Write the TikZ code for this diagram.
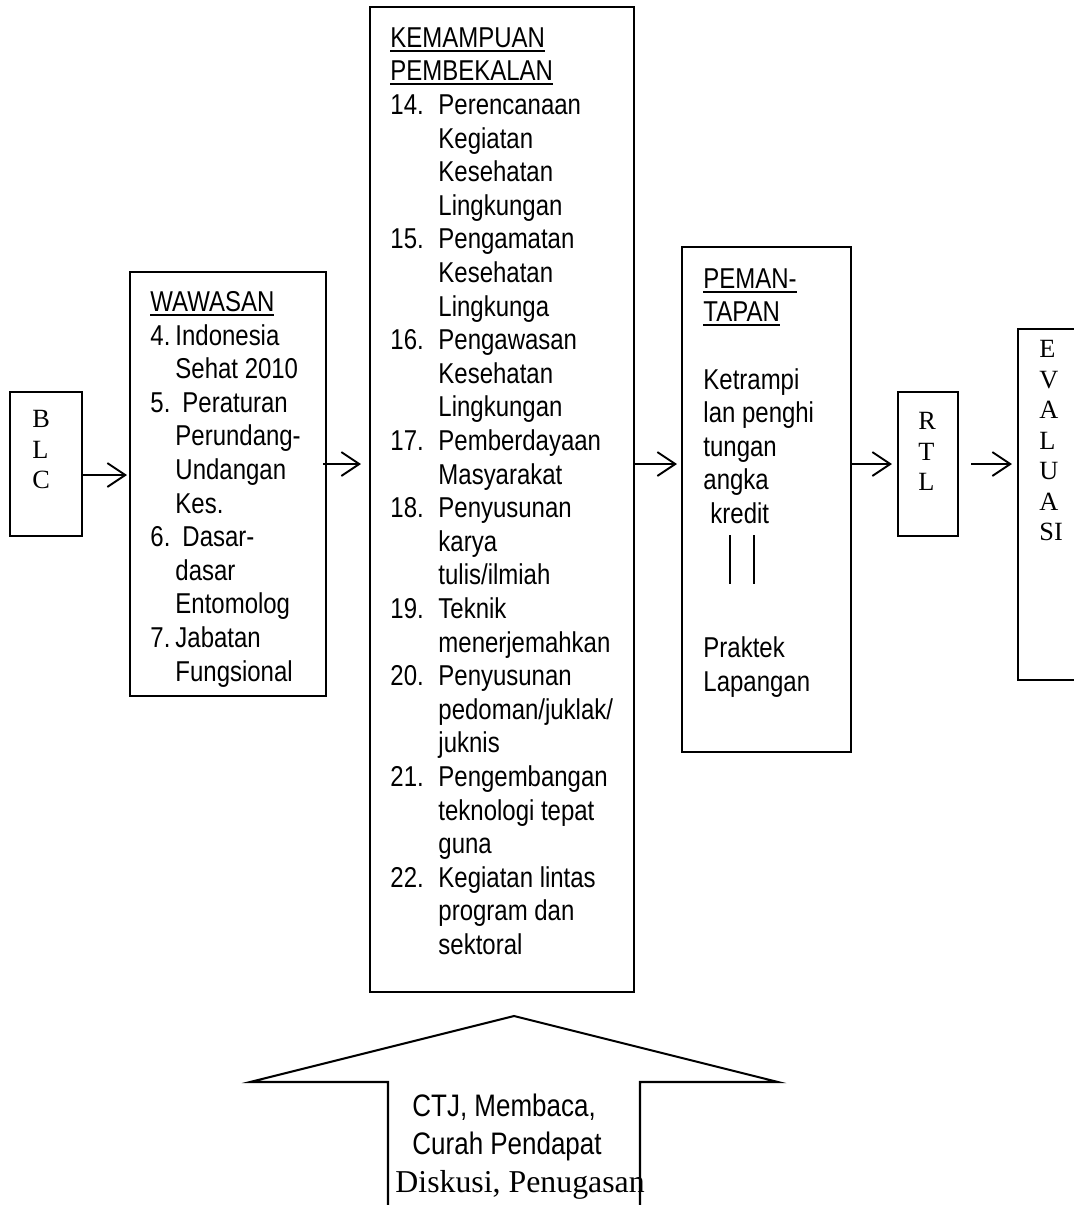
\documentclass[tikz,border=0pt]{standalone}
\usepackage{fontspec}
\setmainfont[FakeStretch=0.835]{Liberation Sans}
\newfontfamily\timesfont{Liberation Serif}
\usepackage{xcolor}
\definecolor{BoxBorder}{RGB}{0,0,0}
\definecolor{FlowColor}{RGB}{0,0,0}
\usepackage{tikz}
\usetikzlibrary{
  positioning,
  arrows.meta,
  calc
}
\newlength{\unitpx}
\setlength{\unitpx}{0.418pt}
% numbered items: number column, then hanging indent
\newcommand{\kno}[1]{\makebox[48\unitpx][l]{#1}}
\newcommand{\kin}{\hspace*{48\unitpx}}
\newcommand{\wno}[1]{\makebox[25\unitpx][l]{#1}}
\newcommand{\win}{\hspace*{25\unitpx}}
% underlined heading, heavier rule
\newcommand{\headul}[1]{\setbox0\hbox{#1}\rlap{\rule[-1.8pt]{\wd0}{0.85pt}}\box0}
\tikzset{
  % Stage box
  box/.style={
    rectangle,
    draw=BoxBorder,
    line width=0.85pt,
    inner sep=0pt
  },
  % Text inside a stage box
  txt/.style={
    inner sep=0pt,
    align=left,
    anchor=north west,
    font=\fontsize{12pt}{33.6\unitpx}\selectfont
  },
  % Upright letters of a short box
  vlet/.style={
    inner sep=0pt,
    align=left,
    anchor=north west,
    font=\timesfont\fontsize{11pt}{30.5\unitpx}\selectfont
  },
  % Flow arrow
  flow/.style={
    draw=FlowColor,
    line width=0.8pt,
    -{Straight Barb[length=7.5pt,width=10pt]}
  },
  % Plain line
  plain/.style={
    draw=BoxBorder,
    line width=0.85pt
  }
}

\begin{document}
\begin{tikzpicture}[x=\unitpx, y=-\unitpx]
  \useasboundingbox (0,0) rectangle (1074,1205);
  \clip (0,0) rectangle (1074,1205);

  % stages
  \node[box, minimum width=72\unitpx, minimum height=144\unitpx] (blc) at (46,464) {};
  \node[box, minimum width=196\unitpx, minimum height=424\unitpx] (waw) at (228,484) {};
  \node[box, minimum width=264\unitpx, minimum height=985\unitpx] (kem) at (502,499.5) {};
  \node[box, minimum width=169\unitpx, minimum height=505\unitpx] (pem) at (766.5,499.5) {};
  \node[box, minimum width=60\unitpx, minimum height=144\unitpx] (rtl) at (928,464) {};
  \node[box, minimum width=72\unitpx, minimum height=351\unitpx] (eva) at (1054,504.5) {};

  % texts
  \node[vlet] (blctxt) at (32,410) {B\\L\\C};
  \node[txt] (wawtxt) at (150,291) {\headul{WAWASAN}\\
    \wno{4.}Indonesia\\ \win Sehat 2010\\
    \wno{5.}\hspace*{7\unitpx}Peraturan\\ \win Perundang-\\ \win Undangan\\ \win Kes.\\
    \wno{6.}\hspace*{7\unitpx}Dasar-\\ \win dasar\\ \win Entomolog\\
    \wno{7.}Jabatan\\ \win Fungsional};
  \node[txt] (kemtxt) at (390,27) {\headul{KEMAMPUAN}\\ \headul{PEMBEKALAN}\\
    \kno{14.}Perencanaan\\ \kin Kegiatan\\ \kin Kesehatan\\ \kin Lingkungan\\
    \kno{15.}Pengamatan\\ \kin Kesehatan\\ \kin Lingkunga\\
    \kno{16.}Pengawasan\\ \kin Kesehatan\\ \kin Lingkungan\\
    \kno{17.}Pemberdayaan\\ \kin Masyarakat\\
    \kno{18.}Penyusunan\\ \kin karya\\ \kin tulis/ilmiah\\
    \kno{19.}Teknik\\ \kin menerjemahkan\\
    \kno{20.}Penyusunan\\ \kin pedoman/juklak/\\ \kin juknis\\
    \kno{21.}Pengembangan\\ \kin teknologi tepat\\ \kin guna\\
    \kno{22.}Kegiatan lintas\\ \kin program dan\\ \kin sektoral};
  \node[txt] (pemtxt) at (703,268) {\headul{PEMAN-}\\ \headul{TAPAN}\\[33.6\unitpx]
    Ketrampi\\ lan penghi\\ tungan\\ angka\\ \hspace*{7\unitpx}kredit\\[100.8\unitpx]
    Praktek\\ Lapangan};
  \node[vlet] (rtltxt) at (918,412) {R\\T\\L};
  \node[vlet] (evatxt) at (1039,340) {E\\V\\A\\L\\U\\A\\SI};

  % double bar
  \draw[plain] (730,535) -- (730,584);
  \draw[plain] (754,535) -- (754,584);

  % flow arrows
  \coordinate (blcout) at ($(blc.east)+(0,11)$);
  \draw[flow, shorten >=2\unitpx] (blcout) -- (blcout -| waw.west);
  \coordinate (wawout) at ($(waw.east)+(-4,-20)$);
  \draw[flow, shorten >=8\unitpx] (wawout) -- (wawout -| kem.west);
  \coordinate (kemout) at ($(kem.east)+(0,-35.5)$);
  \draw[flow, shorten >=4\unitpx] (kemout) -- (kemout -| pem.west);
  \draw[flow, shorten >=5\unitpx] (pem.east |- rtl.west) -- (rtl.west);
  \coordinate (rtlout) at ($(rtl.east)+(12,0)$);
  \draw[flow, shorten >=5\unitpx] (rtlout) -- (rtlout -| eva.west);

  % method arrow
  \draw[plain, line join=miter] (388,1215) -- (388,1082) -- (250,1082) -- (514,1016)
    -- (778,1082) -- (640,1082) -- (640,1215);
  \node[txt, font=\fontsize{13pt}{38\unitpx}\selectfont] (method) at (412,1093)
    {CTJ, Membaca,\\ Curah Pendapat\\
    \hspace*{-17\unitpx}{\timesfont\fontsize{13.3pt}{38\unitpx}\selectfont Diskusi, Penugasan}};
\end{tikzpicture}
\end{document}
